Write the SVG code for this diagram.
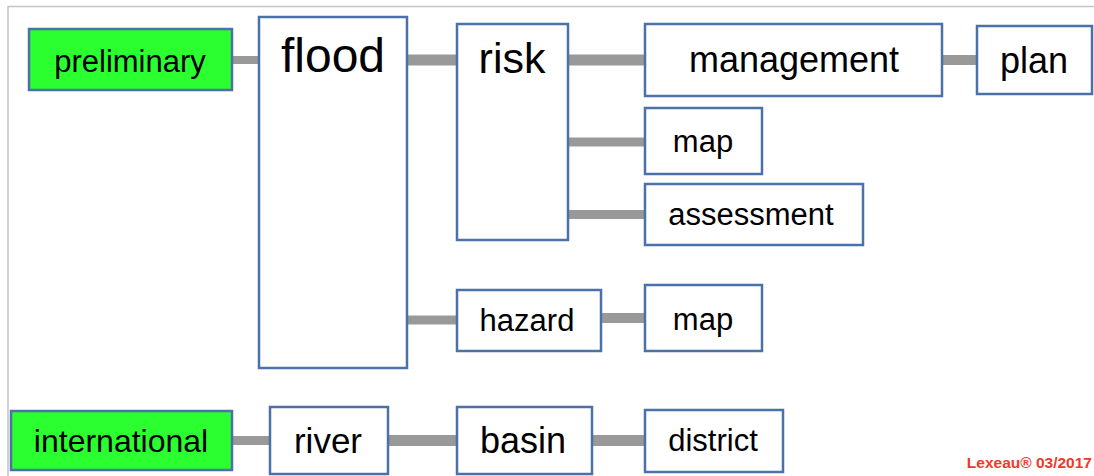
<svg xmlns="http://www.w3.org/2000/svg" width="1094" height="476" viewBox="0 0 1094 476">
<style>
.box{fill:#ffffff;stroke:#4a71a8;stroke-width:2.5}
.green{fill:#2bff30}
.lbl{font-family:"Liberation Sans",Arial,sans-serif;fill:#000;text-anchor:middle}
.con{stroke:#999999;fill:none}
.frame{stroke:#c4c4c4;stroke-width:1.5;fill:none}
.foot{font-family:"Liberation Sans",Arial,sans-serif;font-weight:bold;fill:#f0392b;text-anchor:end;font-size:15.5px}
</style>
<rect width="1094" height="476" fill="#ffffff"/>
<path class="frame" d="M8 476 V6.5 H1094"/>
<g id="connectors">
<line class="con" x1="232" y1="60" x2="259" y2="60" stroke-width="8"/>
<line class="con" x1="407" y1="60" x2="457" y2="60" stroke-width="11"/>
<line class="con" x1="568" y1="60" x2="645" y2="60" stroke-width="11"/>
<line class="con" x1="942" y1="60" x2="977" y2="60" stroke-width="10"/>
<line class="con" x1="568" y1="142" x2="645" y2="142" stroke-width="9"/>
<line class="con" x1="568" y1="214.5" x2="645" y2="214.5" stroke-width="9"/>
<line class="con" x1="407" y1="320" x2="457" y2="320" stroke-width="9"/>
<line class="con" x1="601" y1="318" x2="645" y2="318" stroke-width="10"/>
<line class="con" x1="232" y1="440.5" x2="270" y2="440.5" stroke-width="9"/>
<line class="con" x1="388" y1="440.5" x2="457" y2="440.5" stroke-width="11"/>
<line class="con" x1="592" y1="440.5" x2="645" y2="440.5" stroke-width="11"/>
</g>
<g id="preliminary"><rect class="box green" x="29" y="29" width="203" height="61"/><text class="lbl" x="130" y="72" font-size="31">preliminary</text></g>
<g id="flood"><rect class="box" x="259" y="17" width="148" height="351"/><text class="lbl" x="333" y="72" font-size="48">flood</text></g>
<g id="risk"><rect class="box" x="457" y="24" width="111" height="216"/><text class="lbl" x="512" y="73" font-size="43">risk</text></g>
<g id="management"><rect class="box" x="645" y="24" width="297" height="72"/><text class="lbl" x="794" y="71.5" font-size="36">management</text></g>
<g id="plan"><rect class="box" x="977" y="26" width="115" height="68"/><text class="lbl" x="1034" y="72.5" font-size="36">plan</text></g>
<g id="map-risk"><rect class="box" x="645" y="108" width="117" height="66"/><text class="lbl" x="703" y="152" font-size="31">map</text></g>
<g id="assessment"><rect class="box" x="645" y="184" width="218" height="61"/><text class="lbl" x="751" y="225" font-size="31">assessment</text></g>
<g id="hazard"><rect class="box" x="457" y="290" width="144" height="61"/><text class="lbl" x="527" y="331" font-size="31">hazard</text></g>
<g id="map-hazard"><rect class="box" x="645" y="285" width="117" height="66"/><text class="lbl" x="703" y="329.5" font-size="31">map</text></g>
<g id="international"><rect class="box green" x="11" y="411" width="221" height="59"/><text class="lbl" x="121" y="451.5" font-size="32">international</text></g>
<g id="river"><rect class="box" x="270" y="407" width="118" height="67"/><text class="lbl" x="328" y="453" font-size="35">river</text></g>
<g id="basin"><rect class="box" x="457" y="407" width="135" height="67"/><text class="lbl" x="523" y="453" font-size="36">basin</text></g>
<g id="district"><rect class="box" x="645" y="410" width="138" height="62"/><text class="lbl" x="713" y="451" font-size="31">district</text></g>
<text class="foot" x="1092" y="468">Lexeau® 03/2017</text>
</svg>
